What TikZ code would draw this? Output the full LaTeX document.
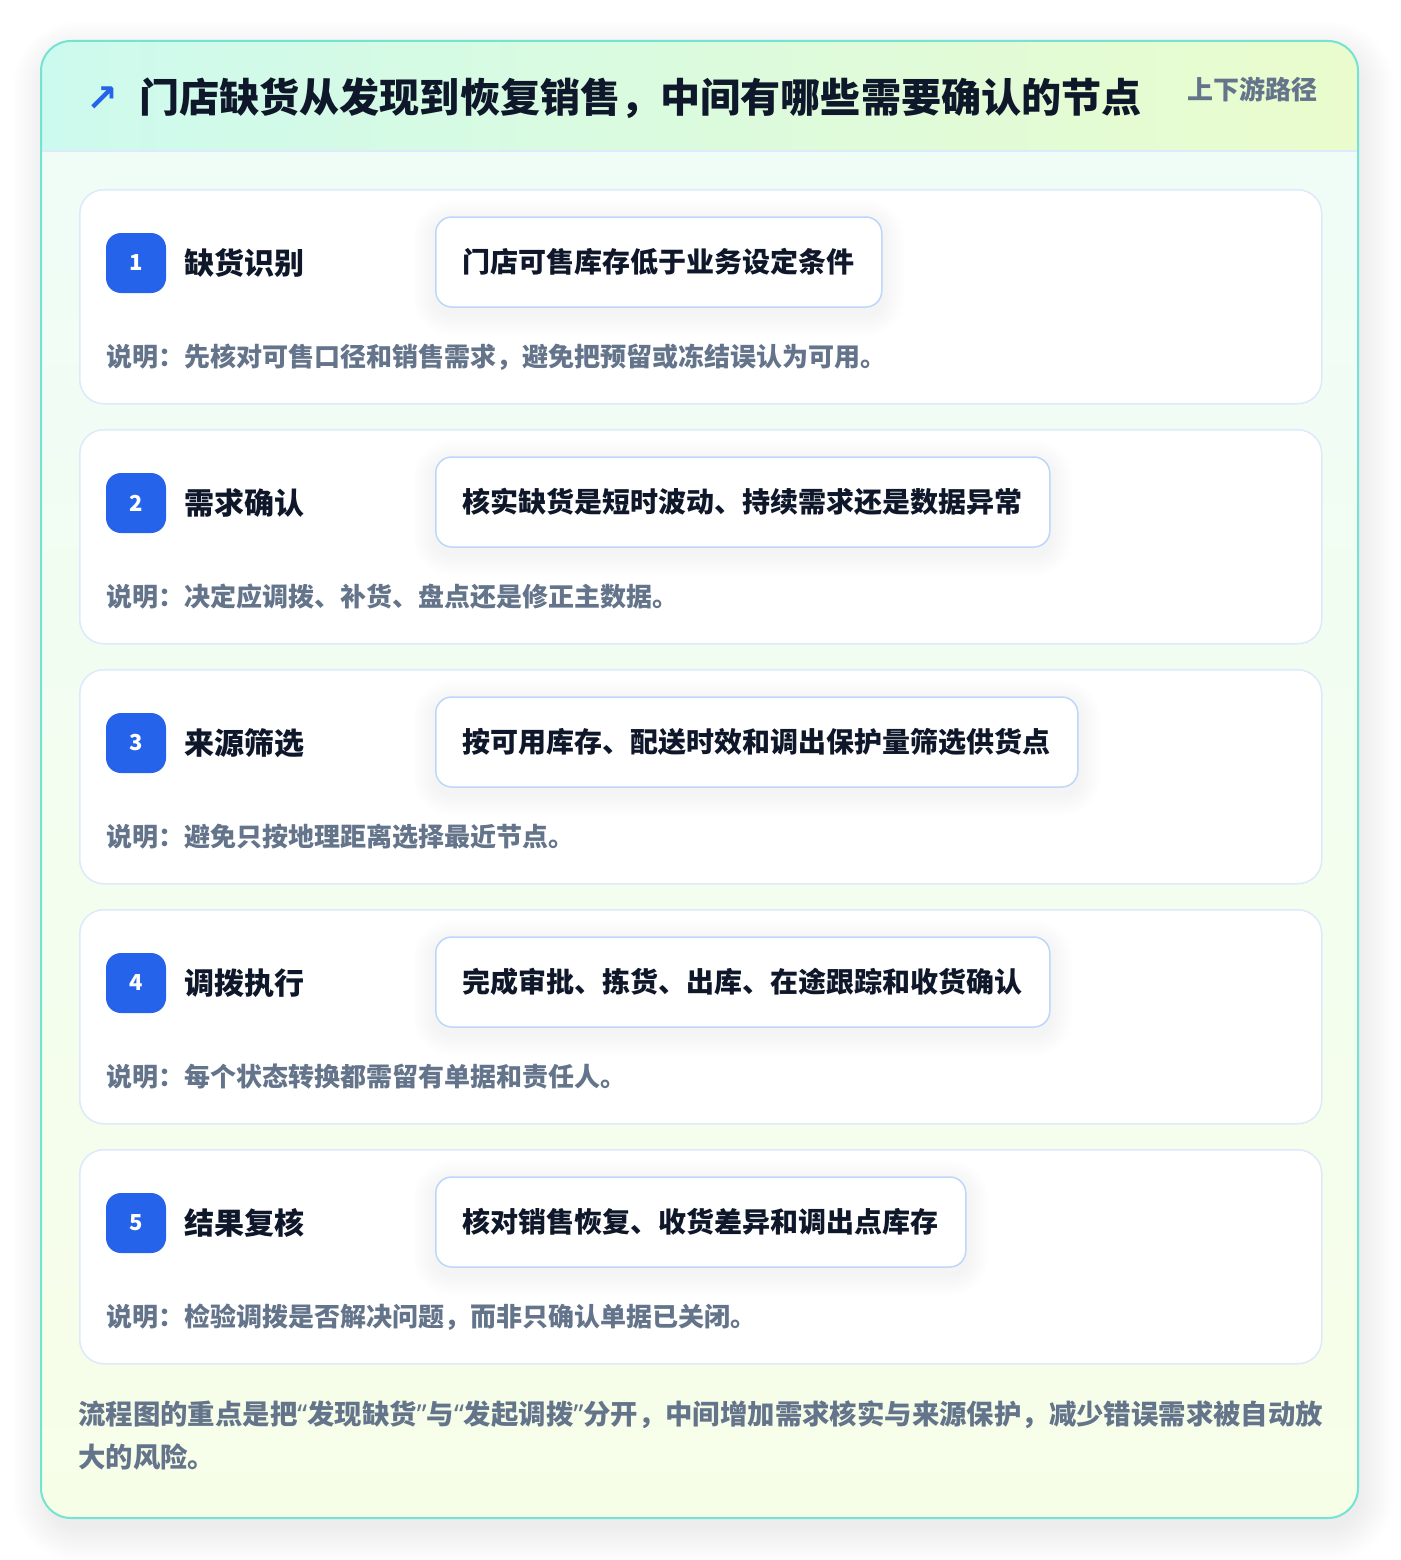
\documentclass[tikz,border=0pt]{standalone}
\usepackage{fontspec}
\setmainfont{Noto Sans CJK SC}
\newfontfamily\symfont{DejaVu Sans}
\newfontfamily\latinfont{Noto Sans}
\definecolor{outerline}{HTML}{74E3D2}
\definecolor{hdrL}{HTML}{CDFAEE}
\definecolor{hdrR}{HTML}{EAFCCD}
\definecolor{bodyT}{HTML}{EFFDF8}
\definecolor{bodyB}{HTML}{F7FEE8}
\definecolor{hdrline}{HTML}{DCEAFB}
\definecolor{cardline}{HTML}{DCEAFB}
\definecolor{boxline}{HTML}{BCD7FA}
\definecolor{badgecol}{HTML}{2563EB}
\definecolor{titlecol}{HTML}{0F172A}
\definecolor{notecol}{HTML}{64748B}
\newcommand{\narrowq}[1]{{\latinfont\bfseries #1}}
\begin{document}
\begin{tikzpicture}[x=1pt,y=-1pt,
  stepcard/.style={draw=cardline, line width=1.5pt, fill=white, rounded corners=24pt,
    minimum width=1242pt, minimum height=214pt, anchor=north west, inner sep=0pt},
  badge/.style={fill=badgecol, rounded corners=15pt, minimum width=60pt, minimum height=60pt,
    inner sep=0pt, text=white, font=\bfseries\fontsize{22}{26}\selectfont},
  steptitle/.style={anchor=west, inner sep=0pt, text=titlecol, font=\bfseries\fontsize{30}{34}\selectfont},
  actbox/.style={draw=boxline, line width=1.5pt, fill=white, rounded corners=16pt, anchor=west,
    minimum height=90pt, inner xsep=27pt, inner ysep=0pt, text=titlecol,
    font=\bfseries\fontsize{28}{32}\selectfont},
  notetext/.style={anchor=west, inner sep=0pt, text=notecol, font=\bfseries\fontsize{26}{30}\selectfont},
  foottext/.style={anchor=west, inner sep=0pt, text=notecol, font=\bfseries\fontsize{27.4}{30}\selectfont}
]
\useasboundingbox (0,0) rectangle (1400,1560);
\fill[white] (0,0) rectangle (1400,1560);
% outer card shadow
\foreach \k in {2,4,...,36}{
  \fill[black, opacity=0.0042, rounded corners=30pt+\k pt]
    (41-\k+8,41-\k+16) rectangle (1358+\k,1518+\k+8);
}
% outer card
\shade[rounded corners=30pt, top color=bodyT, bottom color=bodyB] (41,41) rectangle (1358,1518);
\begin{scope}
  \clip[rounded corners=30pt] (41,41) rectangle (1358,1518);
  \shade[left color=hdrL, right color=hdrR] (41,41) rectangle (1358,151);
\end{scope}
\draw[hdrline, line width=1.5pt] (41,151) -- (1358,151);
\draw[outerline, line width=2pt, rounded corners=30pt] (41,41) rectangle (1358,1518);
% header
\node[anchor=center, inner sep=0pt, text=badgecol, font=\symfont\bfseries\fontsize{38}{42}\selectfont] (icon) at (102,99) {↗};
\node[anchor=west, inner sep=0pt, text=titlecol, font=\bfseries\fontsize{40.1}{46}\selectfont] (title) at (139,98)
  {门店缺货从发现到恢复销售，中间有哪些需要确认的节点};
\node[anchor=east, inner sep=0pt, text=notecol, font=\bfseries\fontsize{26}{30}\selectfont] (subtitle) at (1318,89) {上下游路径};
% steps
\foreach \i/\t/\b/\n in {
  1/缺货识别/门店可售库存低于业务设定条件/说明：先核对可售口径和销售需求，避免把预留或冻结误认为可用。,
  2/需求确认/核实缺货是短时波动、持续需求还是数据异常/说明：决定应调拨、补货、盘点还是修正主数据。,
  3/来源筛选/按可用库存、配送时效和调出保护量筛选供货点/说明：避免只按地理距离选择最近节点。,
  4/调拨执行/完成审批、拣货、出库、在途跟踪和收货确认/说明：每个状态转换都需留有单据和责任人。,
  5/结果复核/核对销售恢复、收货差异和调出点库存/说明：检验调拨是否解决问题，而非只确认单据已关闭。}
{
  \pgfmathsetmacro{\yz}{189+240*(\i-1)}
  \node[stepcard] (card\i) at (79,\yz) {};
  \node[badge] (badge\i) at (136,\yz+74) {\i};
  \node[steptitle] (stitle\i) at (184,\yz+74) {\t};
  % measure box, draw shadow, then box
  \path (435,\yz+73) node[actbox, draw=none, fill=none, text opacity=0] (ghost\i) {\b};
  \foreach \k in {2,4,...,22}{
    \fill[black, opacity=0.0045, rounded corners=16pt+\k pt]
      ([xshift=-\k pt, yshift=\k pt-6pt]ghost\i.north west) rectangle ([xshift=\k pt, yshift=-\k pt-6pt]ghost\i.south east);
  }
  \node[actbox] (box\i) at (435,\yz+73) {\b};
  \node[notetext] (note\i) at (106,\yz+168) {\n};
}
% footer
\node[foottext] (foot1) at (78,1415) {流程图的重点是把\narrowq{“}发现缺货\narrowq{”}与\narrowq{“}发起调拨\narrowq{”}分开，中间增加需求核实与来源保护，减少错误需求被自动放};
\node[foottext] (foot2) at (78,1457) {大的风险。};
\end{tikzpicture}
\end{document}
